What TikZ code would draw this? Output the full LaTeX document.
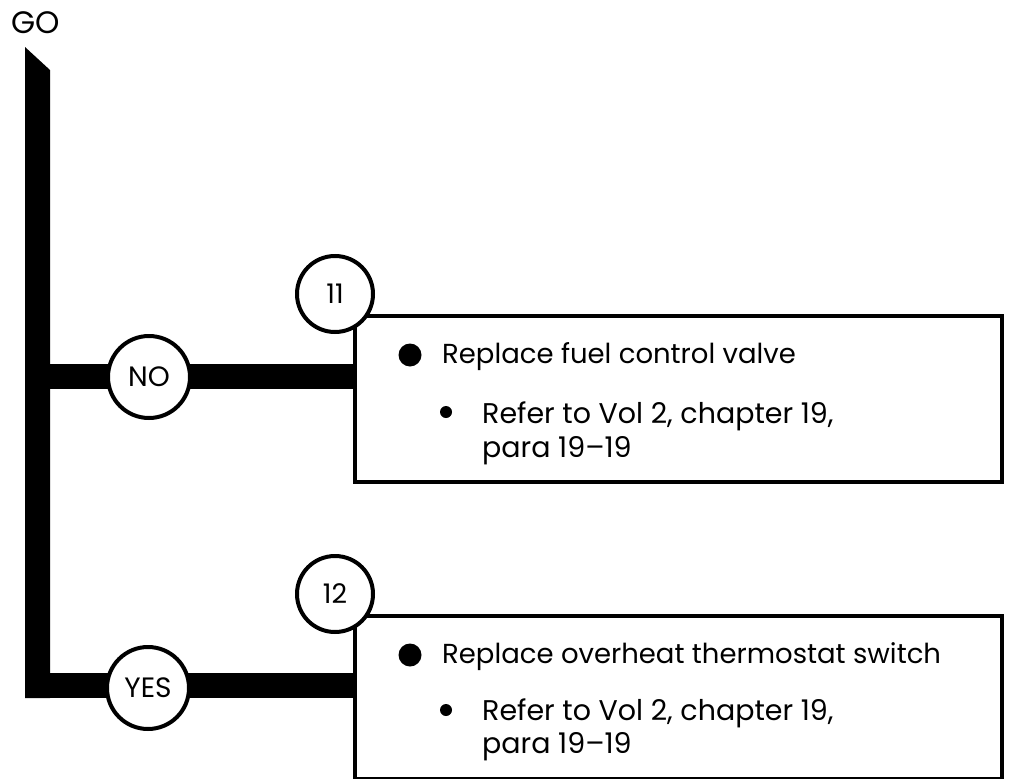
\documentclass[tikz,border=0pt]{standalone}
\usepackage{fontspec}
\setmainfont{Poppins}
\begin{document}
\begin{tikzpicture}[x=1pt,y=-1pt,
  bar/.style={line width=25pt},
  ring/.style={circle, draw, line width=4pt, fill=white, minimum size=82pt, inner sep=0pt, font=\fontsize{28}{32}\selectfont},
  numring/.style={circle, draw, line width=4pt, fill=white, minimum size=76pt, inner sep=0pt, font=\fontsize{27}{30}\selectfont},
  stepbox/.style={draw, line width=3.5pt, fill=white, minimum width=647pt, inner sep=0pt, anchor=north west},
  bigdot/.style={circle, fill=black, minimum size=23pt, inner sep=0pt},
  smalldot/.style={circle, fill=black, minimum size=12pt, inner sep=0pt},
  txt/.style={anchor=base west, inner sep=0pt, font=\fontsize{27.5}{32}\selectfont},
  subtxt/.style={anchor=base west, inner sep=0pt, font=\fontsize{28.5}{32}\selectfont}
]
\useasboundingbox (0,0) rectangle (1010,779);
\node[anchor=base west, inner sep=0pt, font=\fontsize{31}{34}\selectfont] (go) at (11,33) {GO};
% trunk
\coordinate (ttopL) at (25,47);
\coordinate (ttopR) at (50,70);
\coordinate (tbotR) at (50,698);
\coordinate (tbotL) at (25,698);
\fill (ttopL) -- (ttopR) -- (tbotR) -- (tbotL) -- cycle;
% boxes
\node[stepbox, minimum height=166pt] (box1) at (353,314) {};
\node[stepbox, minimum height=163pt] (box2) at (353,614) {};
% branch bars
\coordinate (noL) at (25,376.5);
\coordinate (yesL) at (25,685.5);
\draw[bar] (noL) -- (noL -| box1.west);
\draw[bar] (yesL) -- (yesL -| box2.west);
% decision rings
\node[ring] (no) at (149,377) {NO};
\node[ring] (yes) at (148,688) {YES};
% number rings
\node[numring] (n11) at (335,294) {11};
\node[numring] (n12) at (335,594) {12};
% texts box1
\node[bigdot] (b1) at (410,355) {};
\node[txt] (t1) at (442,363) {Replace fuel control valve};
\node[smalldot] (s1) at (446,412) {};
\node[subtxt] (t1a) at (482,423) {Refer to Vol 2, chapter 19,};
\node[subtxt] (t1b) at (482,457) {para 19--19};
% texts box2
\node[bigdot] (b2) at (410,655) {};
\node[txt] (t2) at (442,663) {Replace overheat thermostat switch};
\node[smalldot] (s2) at (446,710) {};
\node[subtxt] (t2a) at (482,720) {Refer to Vol 2, chapter 19,};
\node[subtxt] (t2b) at (482,753) {para 19--19};
\end{tikzpicture}
\end{document}
